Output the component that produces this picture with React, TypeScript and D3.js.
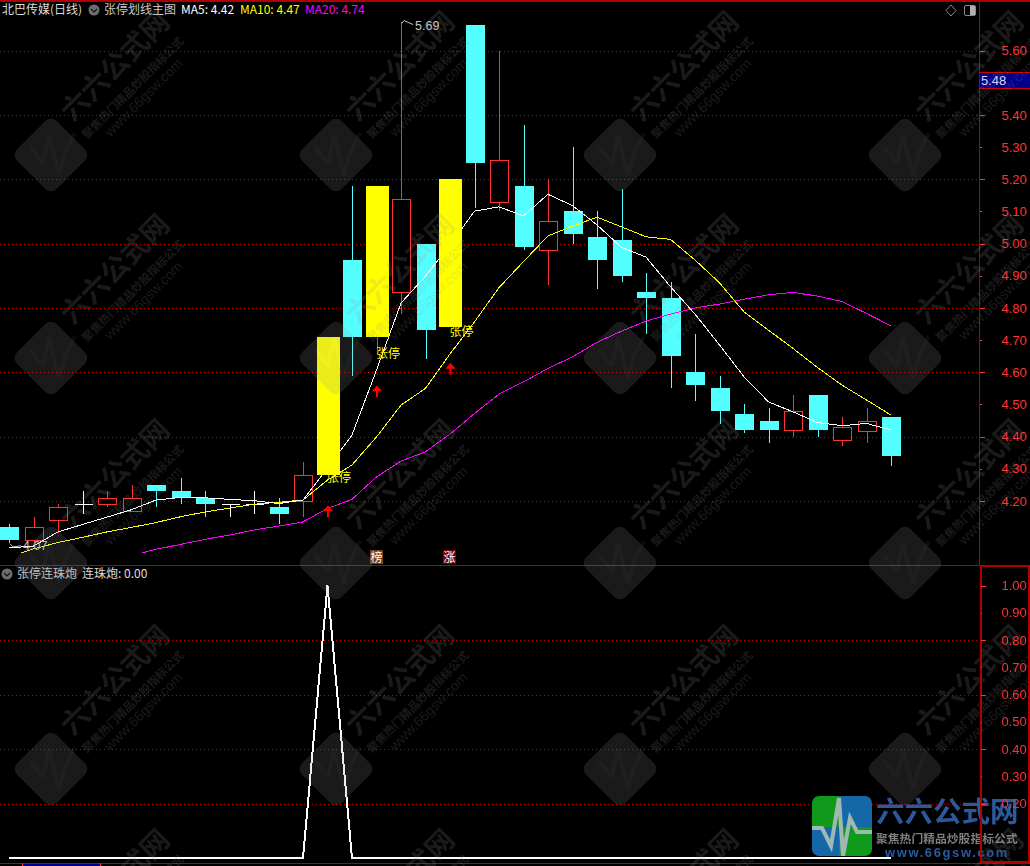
import React, { useEffect, useRef } from 'react';
import * as d3 from 'd3';

// daily candles
const opens = [4.12, 4.08, 4.14, 4.19, 4.19, 4.17, 4.25, 4.23, 4.21, 4.19, 4.19, 4.18, 4.20, 4.28, 4.95, 4.71, 4.85, 5.00, 4.74, 5.68, 5.13, 5.18, 4.98, 5.10, 5.02, 5.01, 4.85, 4.83, 4.60, 4.55, 4.47, 4.45, 4.42, 4.53, 4.39, 4.42, 4.46];
const highs = [4.13, 4.15, 4.19, 4.23, 4.23, 4.25, 4.25, 4.27, 4.23, 4.19, 4.23, 4.21, 4.32, 4.71, 5.18, 5.18, 5.69, 5.00, 5.20, 5.68, 5.60, 5.37, 5.20, 5.30, 5.10, 5.17, 4.91, 4.88, 4.72, 4.59, 4.50, 4.49, 4.53, 4.53, 4.46, 4.49, 4.46];
const lows = [4.07, 4.07, 4.10, 4.16, 4.18, 4.17, 4.18, 4.19, 4.15, 4.15, 4.16, 4.13, 4.15, 4.28, 4.59, 4.67, 4.78, 4.64, 4.74, 5.11, 5.10, 4.98, 4.87, 5.00, 4.86, 4.88, 4.72, 4.55, 4.51, 4.44, 4.41, 4.38, 4.40, 4.40, 4.37, 4.38, 4.31];
const closes = [4.08, 4.12, 4.18, 4.19, 4.21, 4.21, 4.23, 4.21, 4.19, 4.19, 4.19, 4.16, 4.28, 4.71, 4.71, 5.18, 5.14, 4.73, 5.20, 5.25, 5.26, 4.99, 5.07, 5.03, 4.95, 4.90, 4.83, 4.65, 4.56, 4.48, 4.42, 4.42, 4.48, 4.42, 4.43, 4.45, 4.34];
const limitUpDays = [13, 15, 18];

const ma5 = [4.054, 4.06, 4.104, 4.127, 4.15, 4.173, 4.203, 4.211, 4.21, 4.205, 4.201, 4.192, 4.203, 4.302, 4.405, 4.607, 4.815, 4.899, 4.995, 5.101, 5.114, 5.086, 5.153, 5.118, 5.058, 4.988, 4.958, 4.866, 4.781, 4.685, 4.586, 4.508, 4.477, 4.444, 4.434, 4.441, 4.421];
// first point of ma10 / ma20 sits between two days in the picture
const ma10Start = 0.5;
const ma10 = [4.039, 4.051, 4.071, 4.087, 4.104, 4.118, 4.133, 4.151, 4.166, 4.178, 4.19, 4.196, 4.203, 4.265, 4.312, 4.399, 4.498, 4.55, 4.657, 4.757, 4.863, 4.944, 5.024, 5.054, 5.082, 5.052, 5.021, 5.013, 4.949, 4.878, 4.788, 4.731, 4.674, 4.615, 4.56, 4.514, 4.467];
const ma20Start = 5.45;
const ma20 = [4.039, 4.05, 4.065, 4.081, 4.094, 4.11, 4.122, 4.135, 4.177, 4.205, 4.275, 4.324, 4.353, 4.408, 4.472, 4.532, 4.57, 4.612, 4.648, 4.693, 4.728, 4.759, 4.781, 4.8, 4.812, 4.827, 4.841, 4.848, 4.837, 4.82, 4.783, 4.744];

const arrowPrices = [4.187, 4.56, 4.63];
const labelPrices = [4.259, 4.644, 4.713];

// lower panel: 1 on day 13, 0 otherwise
const lianzhupao = [0, 0, 0, 0, 0, 0, 0, 0, 0, 0, 0, 0, 0, 1, 0, 0, 0, 0, 0, 0, 0, 0, 0, 0, 0, 0, 0, 0, 0, 0, 0, 0, 0, 0, 0, 0, 0];

const priceTicks = [5.6, 5.4, 5.3, 5.2, 5.1, 5.0, 4.9, 4.8, 4.7, 4.6, 4.5, 4.4, 4.3, 4.2];
const priceGrid = [5.6, 5.4, 5.2, 5.0, 4.8, 4.6, 4.4, 4.2];
const lowerTicks = [1.0, 0.9, 0.8, 0.7, 0.6, 0.5, 0.4, 0.3, 0.2];
const lowerGrid = [0.8, 0.6, 0.4, 0.2];

const markRows = [155, 358, 563, 769, 973];
const markCols = [51, 336, 620, 905];

const RED = '#ff3232';
const CYAN = '#54ffff';
const GRID = '#c00000';
const FRAME = '#b00000';
const CJK = '"Noto Sans CJK SC", sans-serif';
const NUM = '"Liberation Sans", sans-serif';

const App: React.FC = () => {
  const svgRef = useRef<SVGSVGElement>(null);

  useEffect(() => {
    const svg = d3.select(svgRef.current);
    svg.selectAll('*').remove();

    const x = d3.scaleLinear().domain([0, 36]).range([9, 891]);
    const y = d3.scaleLinear().domain([4.2, 5.6]).range([501, 50.5]);
    const yLow = d3.scaleLinear().domain([0, 1]).range([858, 585.5]);
    const px = (i: number) => Math.round(x(i)) + 0.5;

    svg.append('rect').attr('width', 1030).attr('height', 866).attr('fill', '#000');

    // grid
    const grid = svg.append('g').attr('stroke', GRID).attr('stroke-dasharray', '1 3').attr('shape-rendering', 'crispEdges');
    priceGrid.forEach(v => {
      const gy = Math.round(y(v)) + 0.5;
      grid.append('line').attr('x1', 0).attr('x2', 979).attr('y1', gy).attr('y2', gy);
    });
    lowerGrid.forEach(v => {
      const gy = Math.round(yLow(v)) + 0.5;
      grid.append('line').attr('x1', 0).attr('x2', 979).attr('y1', gy).attr('y2', gy);
    });

    // candles
    const days = d3.range(opens.length);
    const candles = svg.append('g').attr('shape-rendering', 'crispEdges');
    days.filter(i => !limitUpDays.includes(i)).forEach(i => {
      const up = closes[i] > opens[i];
      const flat = closes[i] === opens[i];
      const color = flat ? '#fff' : up ? RED : CYAN;
      const top = y(Math.max(opens[i], closes[i]));
      const bottom = y(Math.min(opens[i], closes[i]));
      candles.append('line')
        .attr('x1', px(i)).attr('x2', px(i))
        .attr('y1', y(highs[i])).attr('y2', y(lows[i]))
        .attr('stroke', color);
      if (flat) {
        candles.append('line')
          .attr('x1', px(i) - 9).attr('x2', px(i) + 9)
          .attr('y1', Math.round(top) + 0.5).attr('y2', Math.round(top) + 0.5)
          .attr('stroke', color);
      } else if (up) {
        candles.append('rect')
          .attr('x', px(i) - 9).attr('width', 18)
          .attr('y', Math.round(top) + 0.5).attr('height', Math.round(bottom - top))
          .attr('fill', '#000').attr('stroke', RED);
      } else {
        candles.append('rect')
          .attr('x', px(i) - 9.5).attr('width', 19)
          .attr('y', top).attr('height', bottom - top)
          .attr('fill', CYAN);
      }
    });

    // moving averages
    const line = d3.line<[number, number]>().x(d => x(d[0])).y(d => y(d[1]));
    const ma5Pts = ma5.map((v, i) => [i, v] as [number, number]);
    const ma10Pts = ma10.map((v, i) => [i === 0 ? ma10Start : i, v] as [number, number]);
    const ma20Pts = ma20.map((v, i) => [i === 0 ? ma20Start : i + 5, v] as [number, number]);
    ([[ma20Pts, '#ff00ff'], [ma10Pts, '#ffff00'], [ma5Pts, '#ffffff']] as [[number, number][], string][]).forEach(([pts, c]) => {
      svg.append('path')
        .attr('d', line(pts))
        .attr('fill', 'none')
        .attr('stroke', c)
        .attr('stroke-width', 1)
        .attr('shape-rendering', 'crispEdges');
    });

    // limit-up bars sit on top of the averages
    const bars = svg.append('g').attr('shape-rendering', 'crispEdges');
    limitUpDays.forEach(i => {
      bars.append('line')
        .attr('x1', px(i)).attr('x2', px(i))
        .attr('y1', y(highs[i])).attr('y2', y(lows[i]))
        .attr('stroke', RED);
      bars.append('rect')
        .attr('x', Math.round(x(i)) - 11).attr('width', 23)
        .attr('y', y(Math.max(opens[i], closes[i])))
        .attr('height', y(Math.min(opens[i], closes[i])) - y(Math.max(opens[i], closes[i])))
        .attr('fill', '#ffff00');
    });

    limitUpDays.forEach((d, k) => {
      svg.append('path')
        .attr('transform', `translate(${x(d) + 0.5},${y(arrowPrices[k])})`)
        .attr('d', 'M0 0 L5 6 L1 6 L1 12 L-1 12 L-1 6 L-5 6 Z')
        .attr('fill', '#ff0000');
      svg.append('text')
        .attr('x', x(d) - 0.5)
        .attr('y', y(labelPrices[k]))
        .attr('fill', '#ffff00')
        .style('font-family', CJK)
        .style('font-size', '12px')
        .text('张停');
    });

    // high / low callouts
    const callout = svg.append('g').attr('fill', 'none').attr('stroke', '#c8c8c8');
    callout.append('path').attr('d', `M${x(16) + 0.5} ${y(5.69) + 2} L${x(16) + 3} ${y(5.69) - 1} L${x(16) + 12} ${y(5.69) + 3}`);
    callout.append('path').attr('d', `M${x(0) + 1} ${y(4.07) + 1} L${x(0) + 4} ${y(4.07) + 4} L${x(0) + 12} ${y(4.07) + 3}`);
    svg.append('text').attr('x', 415).attr('y', y(5.69) + 8).attr('fill', '#c8c8c8')
      .style('font-family', NUM).style('font-size', '12.5px').text('5.69');
    svg.append('text').attr('x', 23).attr('y', y(4.07) + 7).attr('fill', '#c8c8c8')
      .style('font-family', NUM).style('font-size', '12.5px').text('4.07');

    // 榜 / 涨 tags
    ([[15, '#7c3f12', '榜'], [18, '#7a0000', '涨']] as [number, string, string][]).forEach(([d, c, t]) => {
      svg.append('rect').attr('x', Math.round(x(d)) - 7).attr('y', 550).attr('width', 13).attr('height', 14).attr('fill', c);
      svg.append('text').attr('x', Math.round(x(d)) - 0.5).attr('y', 561.5).attr('text-anchor', 'middle')
        .attr('fill', '#fff').style('font-family', CJK).style('font-size', '12px').text(t);
    });

    // lower panel curve
    svg.append('path')
      .attr('d', d3.line<number>().x((_, i) => x(i)).y(d => yLow(d))(lianzhupao))
      .attr('fill', 'none')
      .attr('stroke', '#fff')
      .attr('stroke-width', 2)
      .attr('shape-rendering', 'crispEdges');

    // frame
    const frame = svg.append('g').attr('stroke', FRAME).attr('fill', 'none').attr('shape-rendering', 'crispEdges');
    frame.append('line').attr('x1', 0).attr('x2', 1030).attr('y1', 0.5).attr('y2', 0.5).attr('stroke-width', 2);
    frame.append('line').attr('x1', 979.5).attr('x2', 979.5).attr('y1', 0).attr('y2', 566);
    frame.append('line').attr('x1', 0).attr('x2', 1030).attr('y1', 565.5).attr('y2', 565.5);
    frame.append('line').attr('x1', 0).attr('x2', 1030).attr('y1', 863.5).attr('y2', 863.5);
    svg.append('rect').attr('x', 22).attr('y', 864).attr('width', 79).attr('height', 2).attr('fill', '#00008c');
    frame.append('line').attr('x1', 22.5).attr('x2', 22.5).attr('y1', 863).attr('y2', 866).attr('stroke', RED);
    frame.append('line').attr('x1', 100.5).attr('x2', 100.5).attr('y1', 863).attr('y2', 866).attr('stroke', RED);

    // right axes
    const isMajor = (v: number, list: number[]) => list.some(g => Math.abs(g - v) < 1e-6);
    const upperAxis = svg.append('g')
      .attr('transform', 'translate(979.5,0)')
      .call(d3.axisRight(y).tickValues(priceTicks).tickSize(5).tickPadding(17).tickFormat(d3.format('.2f') as any));
    upperAxis.select('.domain').remove();
    upperAxis.selectAll<SVGLineElement, number>('line')
      .attr('x2', d => (isMajor(d, priceGrid) ? 5 : 2))
      .attr('stroke', RED)
      .attr('shape-rendering', 'crispEdges');

    const lowerAxis = svg.append('g')
      .attr('transform', 'translate(981,0)')
      .call(d3.axisRight(yLow).tickValues(lowerTicks).tickSize(5).tickPadding(15.5).tickFormat(d3.format('.2f') as any));
    lowerAxis.select('.domain').remove();
    lowerAxis.selectAll<SVGLineElement, number>('line')
      .attr('x2', d => (isMajor(d, [1, ...lowerGrid]) ? 5 : 1))
      .attr('stroke', RED)
      .attr('shape-rendering', 'crispEdges');
    svg.selectAll('.tick text')
      .attr('fill', RED)
      .style('font-family', NUM)
      .style('font-size', '13px');

    // current price box
    svg.append('rect').attr('x', 980).attr('y', 72).attr('width', 50).attr('height', 16).attr('fill', '#00008c');
    frame.raise();
    frame.append('line').attr('x1', 980).attr('x2', 1030).attr('y1', 72.5).attr('y2', 72.5).attr('stroke', '#d00000');
    frame.append('line').attr('x1', 980).attr('x2', 1030).attr('y1', 88.5).attr('y2', 88.5).attr('stroke', '#d00000');
    svg.append('text').attr('x', 981).attr('y', 84.5).attr('fill', '#d8d8ff')
      .style('font-family', NUM).style('font-size', '13px').text('5.48');

    // top-right icons
    svg.append('path').attr('d', 'M951 5 L956 10.5 L951 16 L946 10.5 Z').attr('fill', 'none').attr('stroke', '#8a8a8a');
    svg.append('rect').attr('x', 964.5).attr('y', 5.5).attr('width', 11).attr('height', 10).attr('rx', 1.5).attr('fill', 'none').attr('stroke', '#8a8a8a');
    svg.append('rect').attr('x', 970).attr('y', 6).attr('width', 5).attr('height', 9).attr('fill', '#b0b0b0');

    // headers
    const header = (tx: number, ty: number, t: string, c: string) =>
      svg.append('text').attr('x', tx).attr('y', ty).attr('fill', c)
        .style('font-family', CJK).style('font-size', '12px').text(t);
    const chevron = (cx: number, cy: number) => {
      svg.append('circle').attr('cx', cx).attr('cy', cy).attr('r', 5.5).attr('fill', '#6e6e6e');
      svg.append('path').attr('d', `M${cx - 3} ${cy - 1} L${cx} ${cy + 2} L${cx + 3} ${cy - 1}`).attr('fill', 'none').attr('stroke', '#111').attr('stroke-width', 1.2);
    };
    header(2, 14, '北巴传媒(日线)', '#dcdcdc');
    chevron(94, 10);
    header(104, 14, '张停划线主图', '#c8c8c8');
    header(181, 14, `MA5: ${ma5[ma5.length - 1].toFixed(2)}`, '#ffffff');
    header(240, 14, `MA10: ${ma10[ma10.length - 1].toFixed(2)}`, '#ffff00');
    header(305, 14, `MA20: ${ma20[ma20.length - 1].toFixed(2)}`, '#ff00ff');
    chevron(7, 574);
    header(17, 578, '张停连珠炮', '#c8c8c8');
    header(82, 578, `连珠炮: ${lianzhupao[lianzhupao.length - 1].toFixed(2)}`, '#dcdcdc');

    // site watermark, laid over the whole chart
    const marks = svg.append('g').attr('fill', '#939393').attr('opacity', 0.18).style('font-family', CJK);
    markRows.forEach(my => markCols.forEach(mx => {
      const m = marks.append('g').attr('transform', `translate(${mx},${my})`);
      m.append('rect').attr('x', -28).attr('y', -28).attr('width', 56).attr('height', 56).attr('rx', 8)
        .attr('transform', 'rotate(45)');
      m.append('path')
        .attr('d', 'M-21 -8 L-8 8 L-2 -20 L8 20 L14 -2 L24 -22')
        .attr('fill', 'none').attr('stroke', '#fff').attr('stroke-opacity', 0.25).attr('stroke-width', 4)
        .attr('stroke-linejoin', 'bevel');
      m.append('text').attr('transform', 'translate(64,-89) rotate(-45)').attr('text-anchor', 'middle').attr('dy', 10)
        .style('font-size', '28px').style('font-weight', 700).text('六六公式网');
      m.append('text').attr('transform', 'translate(82,-67) rotate(-45)').attr('text-anchor', 'middle').attr('dy', 4)
        .style('font-size', '11.5px').style('font-weight', 700).text('聚焦热门精品炒股指标公式');
      m.append('text').attr('transform', 'translate(93,-57) rotate(-45)').attr('text-anchor', 'middle').attr('dy', 4)
        .style('font-family', NUM).style('font-size', '14px').text('www.66gsw.com');
    }));

    // corner logo
    const logo = svg.append('g').attr('transform', 'translate(812,796)');
    logo.append('clipPath').attr('id', 'logoClip').append('rect').attr('width', 60).attr('height', 60).attr('rx', 7);
    const tiles = logo.append('g').attr('clip-path', 'url(#logoClip)');
    tiles.append('rect').attr('width', 60).attr('height', 60).attr('fill', '#0f9a1c');
    tiles.append('rect').attr('x', 27).attr('width', 33).attr('height', 31).attr('fill', '#1468a8');
    tiles.append('rect').attr('y', 31).attr('width', 27).attr('height', 29).attr('fill', '#1468a8');
    tiles.append('path')
      .attr('d', 'M0 32 L10 32 L19 50 L27 2 L31 60 L38 22 L45 36 L60 36')
      .attr('fill', 'none').attr('stroke', '#9fb8b4').attr('stroke-width', 4);
    svg.append('text').attr('x', 876).attr('y', 822).attr('fill', '#2a5a9c')
      .style('font-family', CJK).style('font-size', '28.5px').style('font-weight', 700).text('六六公式网');
    svg.append('text').attr('x', 876).attr('y', 843).attr('fill', '#7f7f7f')
      .style('font-family', CJK).style('font-size', '11.8px').style('font-weight', 700).text('聚焦热门精品炒股指标公式');
    svg.append('text').attr('x', 885).attr('y', 857).attr('fill', '#2a5a9c')
      .style('font-family', NUM).style('font-size', '13px').style('font-weight', 700).style('letter-spacing', '1.6px').text('www.66gsw.com');

    // lower panel box and its labels stay readable over the logo
    svg.append('rect').attr('x', 980.5).attr('y', 566).attr('width', 48).attr('height', 296)
      .attr('fill', 'none').attr('stroke', FRAME).attr('stroke-width', 2).attr('shape-rendering', 'crispEdges');
    lowerAxis.raise();
  }, []);

  return <svg ref={svgRef} width={1030} height={866} style={{ position: 'fixed', left: 0, top: 0 }} />;
};

export default App;
